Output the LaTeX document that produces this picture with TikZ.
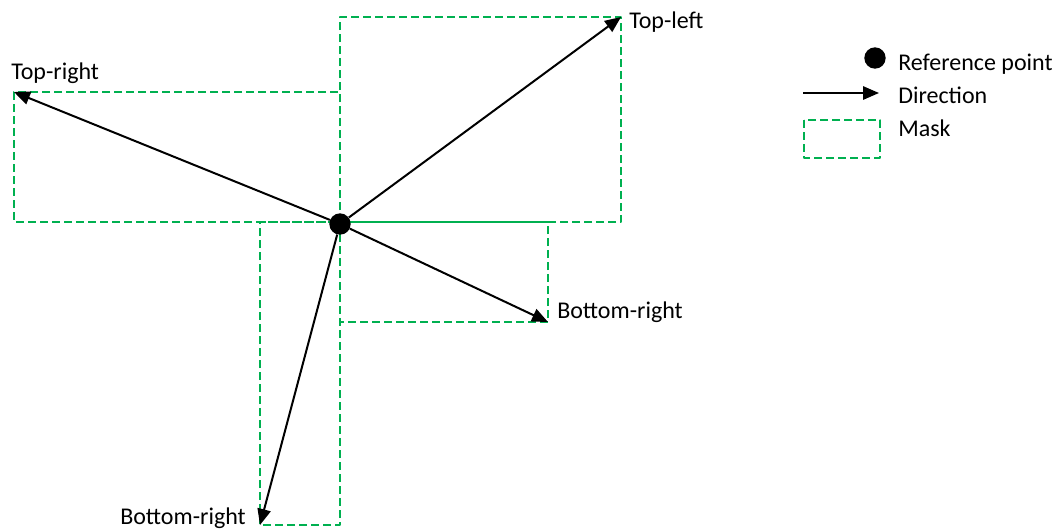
\documentclass[tikz,border=0pt]{standalone}
\usepackage{fontspec}
\setmainfont{Carlito}
\usetikzlibrary{arrows.meta}
\definecolor{maskgreen}{RGB}{0,176,80}
\begin{document}
\begin{tikzpicture}[x=0.75pt, y=-0.75pt, font=\fontsize{18}{21}\selectfont, line join=round, >={Triangle[length=12pt,width=10pt]},
	mask/.style={draw=maskgreen, line width=1.6pt, dash pattern=on 6pt off 3pt},
	dir/.style={->, line width=1.5pt},
	refpt/.style={circle, fill=black, inner sep=0pt, minimum size=16pt},
	lbl/.style={anchor=base west, inner sep=0pt}]
	\useasboundingbox (0,0) rectangle (1057,529);
	\path
	(340,222) coordinate (O)
	(621,17) coordinate (TL)
	(14,92) coordinate (TR)
	(548,322) coordinate (BR)
	(260,525) coordinate (BB);
	% masks
	\foreach \c in {TL,TR,BR,BB}
	\draw[mask] (O) rectangle (\c);
	% reference point and directions
	\node[refpt] (ref) at (340,224) {};
	\foreach \c in {TL,TR,BR,BB}
	\draw[dir] (ref) -- (\c);
	\node[lbl] (tl) at (629,28) {Top-left};
	\node[lbl] (tr) at (11,79) {Top-right};
	\node[lbl] (br) at (557,318) {Bottom-right};
	\node[lbl, anchor=base east] (bb) at (246,524) {Bottom-right};
	% legend
	\node[refpt] (lgdot) at (875,58) {};
	\path (803,93) coordinate (lgA) (879,93) coordinate (lgB)
	(804,120) coordinate (lgC) (880,158) coordinate (lgD);
	\draw[dir] (lgA) -- (lgB);
	\draw[mask] (lgC) rectangle (lgD);
	\node[lbl] (lgref) at (898,70) {Reference point};
	\node[lbl] (lgdir) at (898,103) {Direction};
	\node[lbl] (lgmask) at (898,136) {Mask};
\end{tikzpicture}
\end{document}
